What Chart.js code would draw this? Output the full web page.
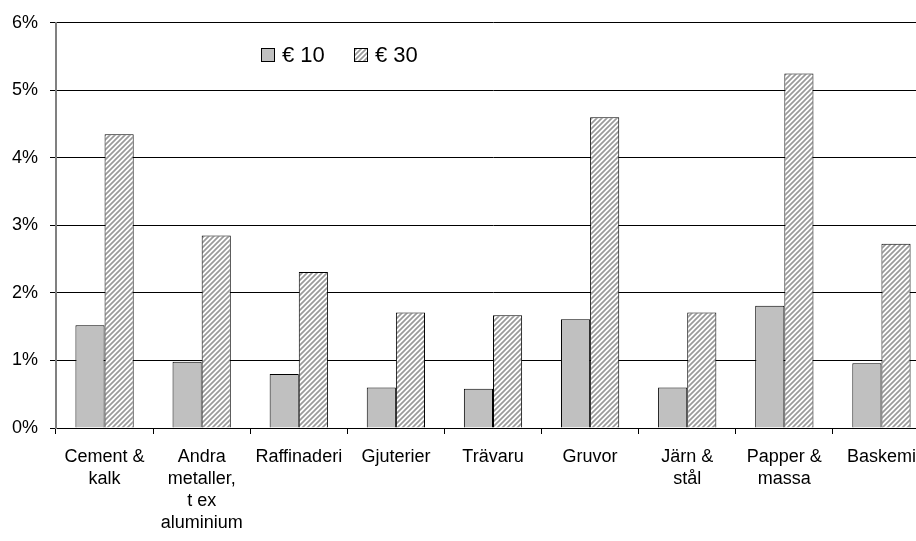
<!DOCTYPE html>
<html>
<head>
<meta charset="utf-8">
<script src="https://cdn.jsdelivr.net/npm/chart.js@4/dist/chart.umd.min.js"></script>
<style>
  html, body { margin: 0; padding: 0; background: #fff; overflow: hidden; }
  #wrap { width: 930px; height: 541px; position: relative; }
</style>
</head>
<body>
<div id="wrap"><canvas id="c"></canvas></div>
<script>
// Branscher (kategorier)
const categories = [
  ['Cement &', 'kalk'],
  ['Andra', 'metaller,', 't ex', 'aluminium'],
  'Raffinaderi',
  'Gjuterier',
  'Trävaru',
  'Gruvor',
  ['Järn &', 'stål'],
  ['Papper &', 'massa'],
  'Baskemi'
];
// Kostnadsökning i procent vid olika utsläppsrättspriser
const seriesLabels = ['€ 10', '€ 30'];
const price10 = [1.52, 0.98, 0.80, 0.60, 0.58, 1.61, 0.60, 1.81, 0.96];
const price30 = [4.35, 2.85, 2.31, 1.71, 1.67, 4.60, 1.71, 5.25, 2.73];
const yTicks = [0, 1, 2, 3, 4, 5, 6];

const FONT = '"Liberation Sans", Arial, sans-serif';

// Diagonal hatch fill
function hatchPattern() {
  const n = 5;
  const t = document.createElement('canvas');
  t.width = n; t.height = n;
  const g = t.getContext('2d');
  g.fillStyle = '#ffffff';
  g.fillRect(0, 0, n, n);
  g.strokeStyle = '#9a9a9a';
  g.lineWidth = 1.7;
  g.beginPath();
  g.moveTo(-1, n + 1); g.lineTo(n + 1, -1);
  g.moveTo(-1, 1); g.lineTo(1, -1);
  g.moveTo(n - 1, n + 1); g.lineTo(n + 1, n - 1);
  g.stroke();
  return g.createPattern(t, 'repeat');
}
const hatch = hatchPattern();

// Legend drawn inside the plot area
const innerLegend = {
  id: 'innerLegend',
  afterDraw(chart) {
    const ctx = chart.ctx;
    const pos = [{ box: 261, text: 282 }, { box: 354, text: 375 }];
    ctx.save();
    ctx.font = '22px ' + FONT;
    ctx.textBaseline = 'middle';
    chart.data.datasets.forEach((ds, i) => {
      ctx.fillStyle = ds.backgroundColor;
      ctx.fillRect(pos[i].box, 48, 14, 14);
      ctx.strokeStyle = '#000';
      ctx.lineWidth = 1;
      ctx.strokeRect(pos[i].box + 0.5, 48.5, 13, 13);
      ctx.fillStyle = '#000';
      ctx.fillText(ds.label, pos[i].text, 56);
    });
    ctx.restore();
  }
};

new Chart(document.getElementById('c'), {
  type: 'bar',
  data: {
    labels: categories,
    datasets: [
      { label: seriesLabels[0], data: price10, backgroundColor: '#c0c0c0', borderColor: '#000', borderWidth: 1 },
      { label: seriesLabels[1], data: price30, backgroundColor: hatch, borderColor: '#000', borderWidth: 1 }
    ]
  },
  options: {
    responsive: true,
    maintainAspectRatio: false,
    animation: false,
    layout: { padding: { top: 21, left: 0, right: 0, bottom: 0 } },
    datasets: { bar: { categoryPercentage: 0.6, barPercentage: 1.0 } },
    plugins: { legend: { display: false }, tooltip: { enabled: false } },
    scales: {
      x: {
        offset: true,
        afterFit(s) { s.height = 113; },
        grid: { display: true, drawOnChartArea: false, offset: true, color: '#000', tickLength: 6, tickColor: '#000' },
        border: { color: '#000', width: 1 },
        ticks: {
          color: '#000', padding: 12, maxRotation: 0, autoSkip: false,
          font: { family: FONT, size: 18, lineHeight: 1.22 }
        }
      },
      y: {
        min: 0, max: 6,
        afterFit(s) { s.width = 56; },
        afterBuildTicks(s) { s.ticks = yTicks.map(v => ({ value: v })); },
        grid: { color: '#000', lineWidth: 1, tickLength: 6, tickColor: '#000' },
        border: { color: '#808080', width: 2 },
        ticks: {
          color: '#000', padding: 12,
          font: { family: FONT, size: 18 },
          callback: v => v + '%'
        }
      }
    }
  },
  plugins: [innerLegend]
});
</script>
</body>
</html>
